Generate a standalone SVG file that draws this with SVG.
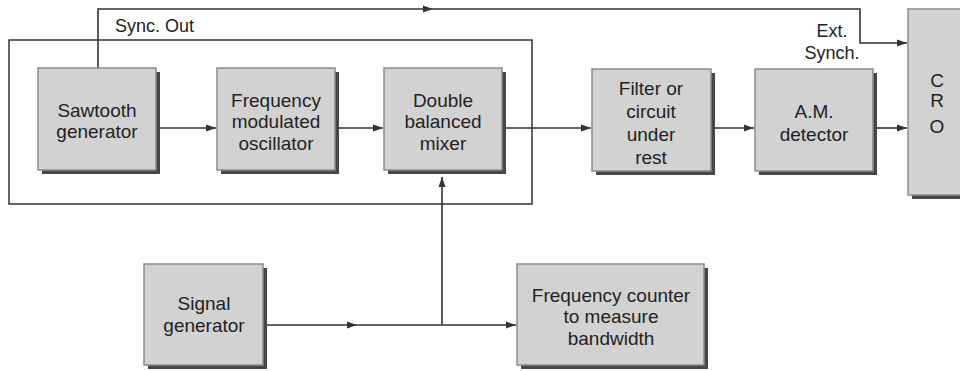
<svg xmlns="http://www.w3.org/2000/svg" width="960" height="371" viewBox="0 0 960 371">
<style>
.box{fill:#d2d2d2;stroke:#8c8c8c;stroke-width:1.5}
.sh{fill:#474747}
.ln{fill:none;stroke:#333;stroke-width:1.6}
text{font-family:"Liberation Sans",Arial,sans-serif;font-size:19px;fill:#222;text-anchor:middle}
.lbl{font-size:18px}
</style>
<defs>
<marker id="ah" markerUnits="userSpaceOnUse" markerWidth="10" markerHeight="8" refX="10" refY="4" orient="auto">
<path d="M0,0.5 L10,4 L0,7.5 z" fill="#333"/>
</marker>
</defs>
<rect width="960" height="371" fill="#fff"/>
<rect x="9" y="40" width="523" height="164" fill="none" stroke="#333" stroke-width="1.5"/>
<g id="connectors">
<path class="ln" d="M98,68 V9 H433" marker-end="url(#ah)"/>
<path class="ln" d="M433,9 H860 V43 H907" marker-end="url(#ah)"/>
<path class="ln" d="M160,128 H216" marker-end="url(#ah)"/>
<path class="ln" d="M339,128 H383" marker-end="url(#ah)"/>
<path class="ln" d="M506,128 H591" marker-end="url(#ah)"/>
<path class="ln" d="M715,128 H754" marker-end="url(#ah)"/>
<path class="ln" d="M877,128 H907" marker-end="url(#ah)"/>
<path class="ln" d="M267,325 H357" marker-end="url(#ah)"/>
<path class="ln" d="M357,325 H516" marker-end="url(#ah)"/>
<path class="ln" d="M442,325 V177" marker-end="url(#ah)"/>
</g>
<g id="sawtooth">
<rect class="sh" x="42" y="72" width="118" height="102"/>
<rect class="box" x="38" y="68" width="118" height="102"/>
<text x="97" y="117">Sawtooth</text><text x="97" y="138">generator</text>
</g>
<g id="fmo">
<rect class="sh" x="221" y="72" width="118" height="102"/>
<rect class="box" x="217" y="68" width="118" height="102"/>
<text x="276" y="107">Frequency</text><text x="276" y="128">modulated</text><text x="276" y="150">oscillator</text>
</g>
<g id="mixer">
<rect class="sh" x="388" y="72" width="118" height="102"/>
<rect class="box" x="384" y="68" width="118" height="102"/>
<text x="443" y="107">Double</text><text x="443" y="128">balanced</text><text x="443" y="150">mixer</text>
</g>
<g id="filter">
<rect class="sh" x="596" y="73" width="119" height="102"/>
<rect class="box" x="592" y="69" width="119" height="102"/>
<text x="651" y="95">Filter or</text><text x="651" y="118">circuit</text><text x="651" y="141">under</text><text x="651" y="164">rest</text>
</g>
<g id="am">
<rect class="sh" x="759" y="73" width="118" height="102"/>
<rect class="box" x="755" y="69" width="118" height="102"/>
<text x="814" y="118">A.M.</text><text x="814" y="141">detector</text>
</g>
<g id="cro">
<rect class="sh" x="912" y="13" width="60" height="186"/>
<rect class="box" x="908" y="9" width="60" height="186"/>
<text x="937" y="87">C</text><text x="937" y="107">R</text><text x="937" y="133">O</text>
</g>
<g id="signal">
<rect class="sh" x="148" y="268" width="119" height="101"/>
<rect class="box" x="144" y="264" width="119" height="101"/>
<text x="204" y="310">Signal</text><text x="204" y="332">generator</text>
</g>
<g id="counter">
<rect class="sh" x="521" y="268" width="187" height="101"/>
<rect class="box" x="517" y="264" width="187" height="101"/>
<text x="611" y="302">Frequency counter</text><text x="611" y="323">to measure</text><text x="611" y="345">bandwidth</text>
</g>
<g id="labels">
<text class="lbl" x="115" y="32" style="text-anchor:start">Sync. Out</text>
<text class="lbl" x="832" y="37">Ext.</text>
<text class="lbl" x="832" y="59">Synch.</text>
</g>
</svg>
